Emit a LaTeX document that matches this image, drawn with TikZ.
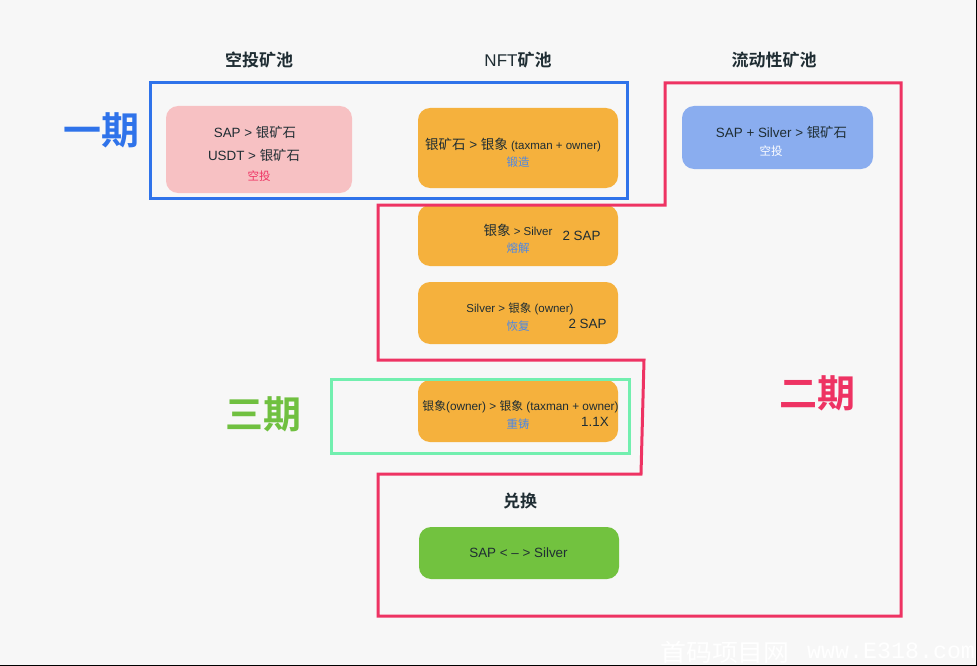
\documentclass[tikz,border=0pt]{standalone}
\usepackage{fontspec}
\setmainfont{Liberation Sans}
\newfontfamily\cjk{Noto Sans CJK SC}
\newfontfamily\cjkb{Noto Sans CJK SC Bold}
\newfontfamily\wmfont{Liberation Mono}
\newcommand\zh[1]{{\cjk #1}}
\newcommand\zb[1]{{\cjkb #1}}
\newcommand\fs[1]{\fontsize{#1}{#1}\selectfont}
\definecolor{bgc}{HTML}{F7F7F7}
\definecolor{ink}{HTML}{1F2D33}
\definecolor{orangec}{HTML}{F5B13D}
\definecolor{pinkc}{HTML}{F7C1C3}
\definecolor{bluec}{HTML}{8AADEF}
\definecolor{greenc}{HTML}{72C23F}
\definecolor{frameblue}{HTML}{2F73EA}
\definecolor{framered}{HTML}{EE3363}
\definecolor{framegreen}{HTML}{72EFAF}
\definecolor{linkblue}{HTML}{4C87E6}
\definecolor{title3}{HTML}{70C040}
\tikzset{
  card/.style={rounded corners=12pt,draw=none,inner sep=0pt},
  head/.style={text=ink,font=\fs{17},inner sep=0pt},
  body/.style={text=ink,font=\fs{13.4},inner sep=0pt},
  small/.style={text=ink,font=\fs{11.5},inner sep=0pt},
  tag/.style={text=linkblue,font=\fs{11.5},inner sep=0pt},
  phase/.style={font=\fs{38},inner sep=0pt},
  frame/.style={line width=3pt,miter limit=10}
}
\begin{document}
\begin{tikzpicture}[x=1pt,y=-1pt]
\useasboundingbox (0,0) rectangle (977,666);
\fill[bgc] (0,0) rectangle (977,666);
% cards
\fill[pinkc,card] (166,106) rectangle (352,193);
\fill[orangec,card] (418,108) rectangle (618,188);
\fill[orangec,card] (418,205) rectangle (618,266);
\fill[orangec,card] (418,282) rectangle (618,344);
\fill[orangec,card] (418,380) rectangle (618,442);
\fill[greenc,card] (419,527) rectangle (619,579);
\fill[bluec,card] (682,106) rectangle (873,169);
% frames
\draw[frame,framered] (665,83) -- (901,83) -- (901,616) -- (378,616) -- (378,474) -- (641,474) -- (644,360) -- (378,360) -- (378,205) -- (665,205) -- cycle;
\draw[frame,frameblue] (150.5,83) rectangle (627.5,198);
\draw[frame,framegreen] (331,379) rectangle (629,453);
% headers
\node[head] (h1) at (259,60) {\zb{空投矿池}};
\node[head] (h2) at (518,60) {NFT\zb{矿池}};
\node[head] (h3) at (774,60) {\zb{流动性矿池}};
\node[head] (h4) at (520,501) {\zb{兑换}};
% phases
\node[phase,text=frameblue] (p1) at (101,130) {\zb{一期}};
\node[phase,text=title3] (p3) at (263,414) {\zb{三期}};
\node[phase,text=framered] (p2) at (817,393) {\zb{二期}};
% pink
\node[body] (a1) at (255,132.5) {SAP > \zh{银矿石}};
\node[body] (a2) at (254,155.5) {USDT > \zh{银矿石}};
\node[tag,text=framered] (a3) at (259,176) {\zh{空投}};
% orange 1
\node[small] (b1) at (513,145) {{\fs{13.5}\zh{银矿石} > \zh{银象}} (taxman + owner)};
\node[tag] (b2) at (518,162) {\zh{锻造}};
% orange 2
\node[small] (c1) at (518,230) {{\fs{13.5}\zh{银象}} > Silver};
\node[tag] (c2) at (518,248) {\zh{熔解}};
\node[body] (c3) at (581.5,236) {2 SAP};
% orange 3
\node[small] (d1) at (520,309) {Silver > \zh{银象} (owner)};
\node[tag] (d2) at (518,326) {\zh{恢复}};
\node[body] (d3) at (587.5,324) {2 SAP};
% orange 4
\node[small,font=\fs{11.8}] (e1) at (520.5,406.5) {\zh{银象}(owner) > \zh{银象} (taxman + owner)};
\node[tag] (e2) at (518,424) {\zh{重铸}};
\node[body] (e3) at (595,421.5) {1.1X};
% green
\node[body] (f1) at (518.5,553) {SAP < -- > Silver};
% blue
\node[body] (g1) at (781.5,132.5) {SAP + Silver > \zh{银矿石}};
\node[tag,text=white] (g2) at (771,151) {\zh{空投}};
% watermark
\node[text=white,font=\fs{24},inner sep=0pt,anchor=west,xscale=1.08] (w1) at (660,652) {\zh{首码项目网}};
\node[text=white,font=\wmfont\fs{23.3},inner sep=0pt,anchor=west] (w2) at (807,651) {www.E318.com};
% scan edges
\fill[black] (0,665) rectangle (977,666);
\fill[black] (975.5,0) rectangle (977,666);
\end{tikzpicture}
\end{document}
